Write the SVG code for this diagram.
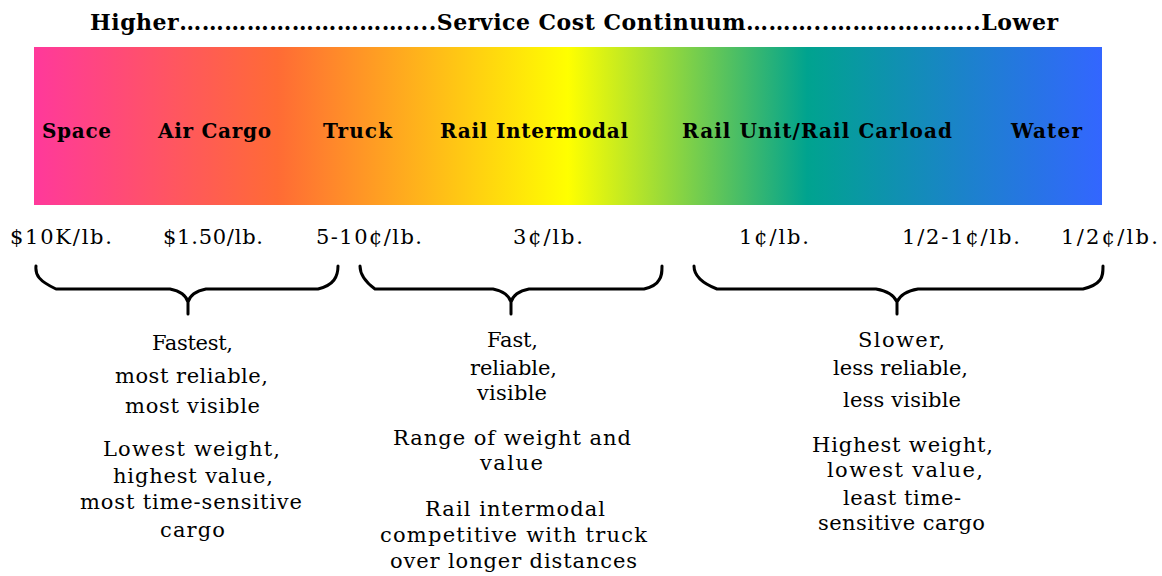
<svg xmlns="http://www.w3.org/2000/svg" width="1162" height="576" viewBox="0 0 1162 576">
<style>
.t{font-family:"DejaVu Serif","Liberation Serif",serif;fill:#000}
.b{font-weight:bold}
.title{font-size:22px}
.lab{font-size:20px}
.price{font-size:21px}
.desc{font-size:21px;text-anchor:start}
.brace{fill:none;stroke:#000;stroke-width:3;stroke-linecap:round;stroke-linejoin:round}
</style>
<defs>
<linearGradient id="spectrum" x1="34" y1="0" x2="1102" y2="0" gradientUnits="userSpaceOnUse">
<stop offset="0" stop-color="#FF399B"/>
<stop offset="0.228" stop-color="#FF6B35"/>
<stop offset="0.5" stop-color="#FFFF00"/>
<stop offset="0.724" stop-color="#00A38F"/>
<stop offset="1" stop-color="#3366FF"/>
</linearGradient>
</defs>
<rect width="1162" height="576" fill="#fff"/>
<g id="title">
<text class="t b title" x="90" y="30" textLength="968">Higher…………………………....Service Cost Continuum………..………………..Lower</text>
</g>
<g id="bar">
<rect x="34" y="47" width="1068" height="158" fill="url(#spectrum)"/>
</g>
<g id="mode-space"><text class="t b lab" x="42" y="138" textLength="69">Space</text></g>
<g id="mode-air"><text class="t b lab" x="158" y="138" textLength="113">Air Cargo</text></g>
<g id="mode-truck"><text class="t b lab" x="323" y="138" textLength="69">Truck</text></g>
<g id="mode-intermodal"><text class="t b lab" x="440" y="138" textLength="188">Rail Intermodal</text></g>
<g id="mode-rail"><text class="t b lab" x="682" y="138" textLength="270">Rail Unit/Rail Carload</text></g>
<g id="mode-water"><text class="t b lab" x="1011" y="138" textLength="71">Water</text></g>
<g id="prices">
<text class="t price" x="10" y="244" textLength="102">$10K/lb.</text>
<text class="t price" x="163" y="244" textLength="100">$1.50/lb.</text>
<text class="t price" x="316" y="244" textLength="106">5-10¢/lb.</text>
<text class="t price" x="513" y="244" textLength="70">3¢/lb.</text>
<text class="t price" x="739" y="244" textLength="70">1¢/lb.</text>
<text class="t price" x="902" y="244" textLength="118">1/2-1¢/lb.</text>
<text class="t price" x="1061" y="244" textLength="97">1/2¢/lb.</text>
</g>
<g id="connectors">
<path class="brace" d="M36,266 C35,275 39,281 56,289 L170,289 C180,291 186,295 188,302 L188,314 M188,302 C190,295 196,291 206,289 L318,289 C326,287 331,284 334,280 C337,276 338,272 338,266"/>
<path class="brace" d="M360,266 C360,274 364,281 375,289 L493,289 C503,291 509,295 511,302 L511,314 M511,302 C513,295 519,291 529,289 L644,289 C652,287 657,284 659,280 C662,276 662,272 662,266"/>
<path class="brace" d="M694,266 C694,274 699,282 717,289 L876,289 C888,291 894,295 897,302 L897,314 M897,302 C900,295 906,291 918,289 L1083,289 C1091,287 1097,284 1100,280 C1103,276 1103,272 1103,266"/>
</g>
<g id="group-fast">
<text class="t desc" x="152" y="350" textLength="81">Fastest,</text>
<text class="t desc" x="115" y="383" textLength="153">most reliable,</text>
<text class="t desc" x="125" y="413" textLength="135">most visible</text>
<text class="t desc" x="103" y="456" textLength="177">Lowest weight,</text>
<text class="t desc" x="113" y="483" textLength="160">highest value,</text>
<text class="t desc" x="80" y="509" textLength="222">most time-sensitive</text>
<text class="t desc" x="160" y="537" textLength="65">cargo</text>
</g>
<g id="group-intermodal">
<text class="t desc" x="487" y="347" textLength="51">Fast,</text>
<text class="t desc" x="470" y="375" textLength="87">reliable,</text>
<text class="t desc" x="477" y="400" textLength="70">visible</text>
<text class="t desc" x="393" y="445" textLength="238">Range of weight and</text>
<text class="t desc" x="480" y="470" textLength="63">value</text>
<text class="t desc" x="425" y="516" textLength="180">Rail intermodal</text>
<text class="t desc" x="380" y="542" textLength="267">competitive with truck</text>
<text class="t desc" x="390" y="568" textLength="247">over longer distances</text>
</g>
<g id="group-slow">
<text class="t desc" x="858" y="347" textLength="87">Slower,</text>
<text class="t desc" x="833" y="375" textLength="135">less reliable,</text>
<text class="t desc" x="843" y="407" textLength="118">less visible</text>
<text class="t desc" x="812" y="452" textLength="181">Highest weight,</text>
<text class="t desc" x="827" y="477" textLength="156">lowest value,</text>
<text class="t desc" x="843" y="505" textLength="118">least time-</text>
<text class="t desc" x="818" y="530" textLength="167">sensitive cargo</text>
</g>
</svg>
